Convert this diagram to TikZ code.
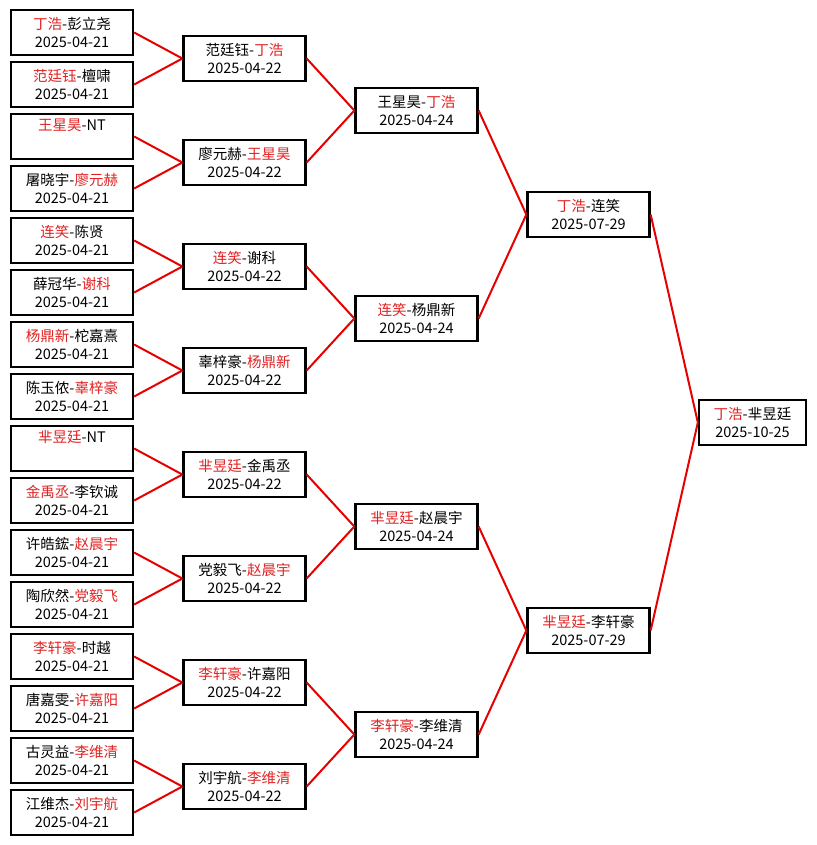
\documentclass[tikz,border=0pt]{standalone}
\usepackage{fontspec}
\setmainfont{Noto Sans CJK SC}
\definecolor{win}{RGB}{225,35,35}
\definecolor{ln}{RGB}{230,0,0}
\newcommand{\R}[1]{\textcolor{win}{#1}}
\begin{document}
\begin{tikzpicture}[x=1pt,y=-1pt,
  box/.style={draw=black, line width=2.3pt, fill=white, minimum width=122pt,
    minimum height=45pt, inner sep=0pt, align=center,
    font=\fontsize{14.5}{18}\selectfont},
  link/.style={draw=ln, line width=2pt}]
\useasboundingbox (0,0) rectangle (816,845);
\fill[white] (0,0) rectangle (816,845);
% round 1
\node[box] (c1-1)  at (72,32.5)  {\R{丁浩}-彭立尧\\2025-04-21};
\node[box] (c1-2)  at (72,84.5)  {\R{范廷钰}-檀啸\\2025-04-21};
\node[box] (c1-3)  at (72,136.5) {\R{王星昊}-NT\\\strut};
\node[box] (c1-4)  at (72,188.5) {屠晓宇-\R{廖元赫}\\2025-04-21};
\node[box] (c1-5)  at (72,240.5) {\R{连笑}-陈贤\\2025-04-21};
\node[box] (c1-6)  at (72,292.5) {薛冠华-\R{谢科}\\2025-04-21};
\node[box] (c1-7)  at (72,344.5) {\R{杨鼎新}-柁嘉熹\\2025-04-21};
\node[box] (c1-8)  at (72,396.5) {陈玉侬-\R{辜梓豪}\\2025-04-21};
\node[box] (c1-9)  at (72,448.5) {\R{芈昱廷}-NT\\\strut};
\node[box] (c1-10) at (72,500.5) {\R{金禹丞}-李钦诚\\2025-04-21};
\node[box] (c1-11) at (72,552.5) {许皓鋐-\R{赵晨宇}\\2025-04-21};
\node[box] (c1-12) at (72,604.5) {陶欣然-\R{党毅飞}\\2025-04-21};
\node[box] (c1-13) at (72,656.5) {\R{李轩豪}-时越\\2025-04-21};
\node[box] (c1-14) at (72,708.5) {唐嘉雯-\R{许嘉阳}\\2025-04-21};
\node[box] (c1-15) at (72,760.5) {古灵益-\R{李维清}\\2025-04-21};
\node[box] (c1-16) at (72,812.5) {江维杰-\R{刘宇航}\\2025-04-21};
% round 2
\node[box] (c2-1) at (244.5,58.5)  {范廷钰-\R{丁浩}\\2025-04-22};
\node[box] (c2-2) at (244.5,162.5) {廖元赫-\R{王星昊}\\2025-04-22};
\node[box] (c2-3) at (244.5,266.5) {\R{连笑}-谢科\\2025-04-22};
\node[box] (c2-4) at (244.5,370.5) {辜梓豪-\R{杨鼎新}\\2025-04-22};
\node[box] (c2-5) at (244.5,474.5) {\R{芈昱廷}-金禹丞\\2025-04-22};
\node[box] (c2-6) at (244.5,578.5) {党毅飞-\R{赵晨宇}\\2025-04-22};
\node[box] (c2-7) at (244.5,682.5) {\R{李轩豪}-许嘉阳\\2025-04-22};
\node[box] (c2-8) at (244.5,786.5) {刘宇航-\R{李维清}\\2025-04-22};
% round 3
\node[box] (c3-1) at (416.5,110.5) {王星昊-\R{丁浩}\\2025-04-24};
\node[box] (c3-2) at (416.5,318.5) {\R{连笑}-杨鼎新\\2025-04-24};
\node[box] (c3-3) at (416.5,526.5) {\R{芈昱廷}-赵晨宇\\2025-04-24};
\node[box] (c3-4) at (416.5,734.5) {\R{李轩豪}-李维清\\2025-04-24};
% round 4
\node[box] (c4-1) at (588.5,214.5) {\R{丁浩}-连笑\\2025-07-29};
\node[box] (c4-2) at (588.5,630.5) {\R{芈昱廷}-李轩豪\\2025-07-29};
% final
\node[box, minimum width=107pt] (c5) at (752.5,422.5) {\R{丁浩}-芈昱廷\\2025-10-25};
% connectors
\foreach \i in {1,...,8} {
  \pgfmathtruncatemacro\a{2*\i-1}
  \pgfmathtruncatemacro\b{2*\i}
  \draw[link] (c1-\a.east) -- (c2-\i.west);
  \draw[link] (c1-\b.east) -- (c2-\i.west);
}
\foreach \i in {1,...,4} {
  \pgfmathtruncatemacro\a{2*\i-1}
  \pgfmathtruncatemacro\b{2*\i}
  \draw[link] (c2-\a.east) -- (c3-\i.west);
  \draw[link] (c2-\b.east) -- (c3-\i.west);
}
\foreach \i in {1,2} {
  \pgfmathtruncatemacro\a{2*\i-1}
  \pgfmathtruncatemacro\b{2*\i}
  \draw[link] (c3-\a.east) -- (c4-\i.west);
  \draw[link] (c3-\b.east) -- (c4-\i.west);
}
\draw[link] (c4-1.east) -- (c5.west);
\draw[link] (c4-2.east) -- (c5.west);
\end{tikzpicture}
\end{document}
